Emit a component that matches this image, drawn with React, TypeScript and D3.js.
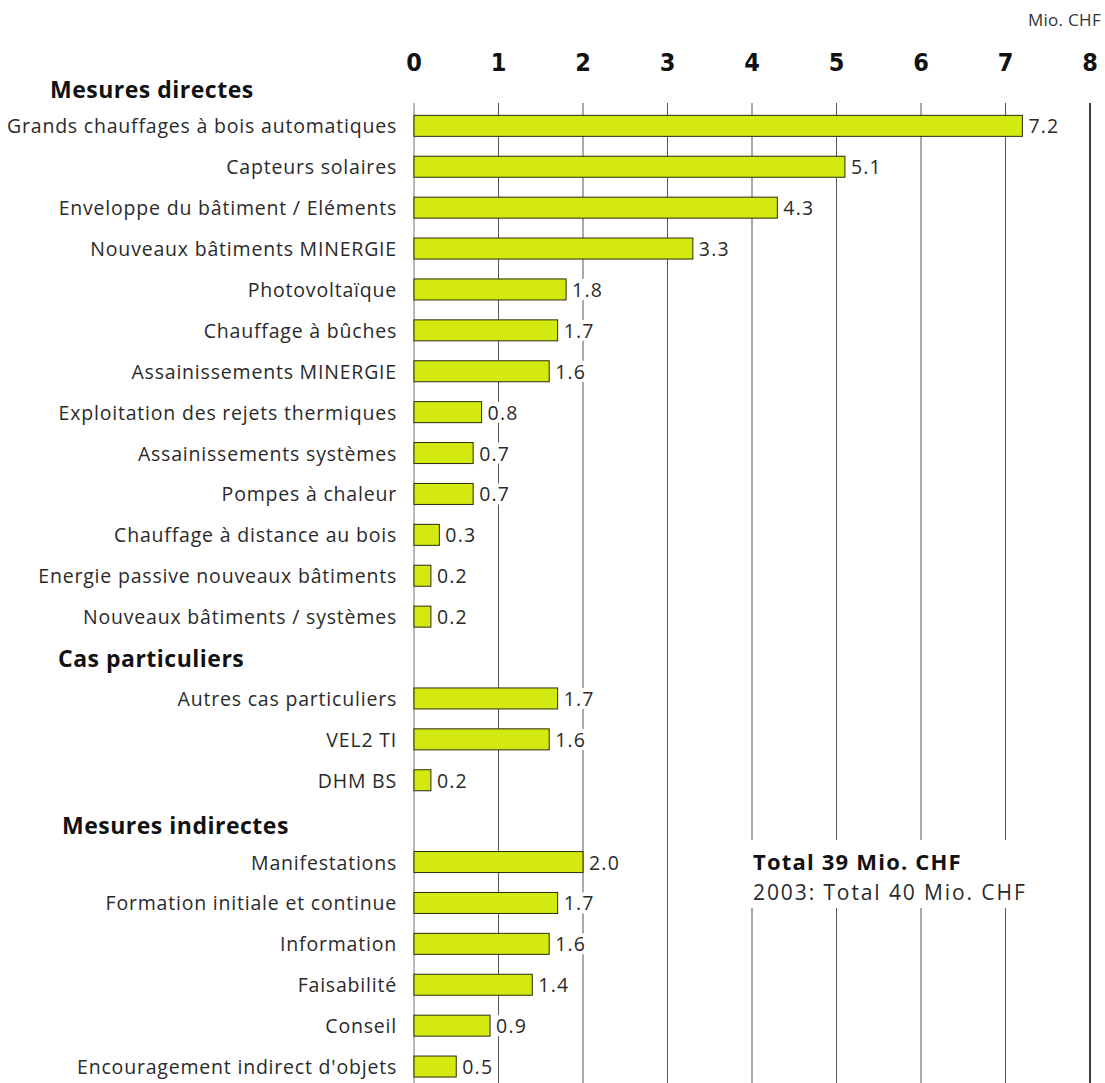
import React from "react";
import * as d3 from "d3";

// Chart data (Mio. CHF)
const groupNames = ["Mesures directes", "Cas particuliers", "Mesures indirectes"];

const directLabels = [
  "Grands chauffages à bois automatiques",
  "Capteurs solaires",
  "Enveloppe du bâtiment / Eléments",
  "Nouveaux bâtiments MINERGIE",
  "Photovoltaïque",
  "Chauffage à bûches",
  "Assainissements MINERGIE",
  "Exploitation des rejets thermiques",
  "Assainissements systèmes",
  "Pompes à chaleur",
  "Chauffage à distance au bois",
  "Energie passive nouveaux bâtiments",
  "Nouveaux bâtiments / systèmes",
];
const directValues = [7.2, 5.1, 4.3, 3.3, 1.8, 1.7, 1.6, 0.8, 0.7, 0.7, 0.3, 0.2, 0.2];

const specialLabels = ["Autres cas particuliers", "VEL2 TI", "DHM BS"];
const specialValues = [1.7, 1.6, 0.2];

const indirectLabels = [
  "Manifestations",
  "Formation initiale et continue",
  "Information",
  "Faisabilité",
  "Conseil",
  "Encouragement indirect d'objets",
];
const indirectValues = [2.0, 1.7, 1.6, 1.4, 0.9, 0.5];

const tickValues = [0, 1, 2, 3, 4, 5, 6, 7, 8];

const totalLine = "Total 39 Mio. CHF";
const previousLine = "2003: Total 40 Mio. CHF";
const unitLabel = "Mio. CHF";

interface Row {
  key: string;
  label: string;
  value: number | null; // null = group header
  group: number;
}

const W = 1105;
const H = 1083;
const FONT = "'Open Sans', 'Noto Sans', sans-serif";

const App = () => {
  // Build the row list: header followed by its items
  const labelSets = [directLabels, specialLabels, indirectLabels];
  const valueSets = [directValues, specialValues, indirectValues];
  const rows: Row[] = [];
  groupNames.forEach((g, gi) => {
    rows.push({ key: `h${gi}`, label: g, value: null, group: gi });
    labelSets[gi].forEach((l, i) => {
      rows.push({ key: `r${gi}-${i}`, label: l, value: valueSets[gi][i], group: gi });
    });
  });

  const x = d3.scaleLinear().domain([0, 8]).range([414, 1090]);
  const y = d3
    .scalePoint<string>()
    .domain(rows.map((r) => r.key))
    .range([64.5, 1087])
    .padding(0.5);

  const barH = 21;
  const headerX = [50, 58, 62]; // header indents
  const headerDy = [7, 3, 7];

  return (
    <svg
      width={W}
      height={H}
      style={{ position: "absolute", left: 0, top: 0, display: "block", background: "#fff" }}
      fontFamily={FONT}
    >
      {/* unit label */}
      <text x={1101} y={26} textAnchor="end" fontSize={17} letterSpacing={0.3} fill="#333">
        {unitLabel}
      </text>

      {/* tick labels */}
      {tickValues.map((t) => (
        <text
          key={`t${t}`}
          x={x(t)}
          y={71}
          textAnchor="middle"
          fontSize={25}
          fontWeight="bold"
          fill="#111"
          fontFamily="'Liberation Sans Narrow', 'DejaVu Sans Condensed', sans-serif"
          style={{ fontStretch: "condensed" }}
        >
          {t}
        </text>
      ))}

      {/* gridlines */}
      {tickValues.map((t) => (
        <line
          key={`g${t}`}
          x1={x(t)}
          x2={x(t)}
          y1={103}
          y2={H}
          stroke={t === 8 ? "#000" : t === 0 ? "#777" : "#555"}
          strokeWidth={t === 8 ? 1.5 : 1}
        />
      ))}

      {/* rows */}
      {rows.map((r) => {
        const cy = y(r.key) as number;
        if (r.value === null) {
          return (
            <text
              key={r.key}
              x={headerX[r.group]}
              y={cy + headerDy[r.group]}
              dominantBaseline="middle"
              fontSize={23}
              fontWeight="bold"
              letterSpacing={0.5}
              fill="#111"
            >
              {r.label}
            </text>
          );
        }
        const end = x(r.value);
        const valText = r.value.toFixed(1);
        return (
          <g key={r.key}>
            <text
              x={397}
              y={cy}
              textAnchor="end"
              dominantBaseline="central"
              fontSize={19.5}
              letterSpacing={0.8}
              fill="#2a2a2a"
            >
              {r.label}
            </text>
            <rect
              x={x(0)}
              y={cy - barH / 2}
              width={end - x(0)}
              height={barH}
              fill="#d3e90f"
              stroke="#2b2b10"
              strokeWidth={1}
            />
            <rect x={end + 3} y={cy - barH / 2} width={38} height={barH} fill="#fff" />
            <text
              x={end + 6}
              y={cy}
              dominantBaseline="central"
              fontSize={19.5}
              letterSpacing={1.2}
              fill="#2a2a2a"
            >
              {valText}
            </text>
          </g>
        );
      })}

      {/* totals */}
      <rect x={748} y={840} width={300} height={68} fill="#fff" />
      <text x={753} y={870} fontSize={22} fontWeight="bold" letterSpacing={1.2} fill="#111">
        {totalLine}
      </text>
      <text x={753} y={900} fontSize={21} letterSpacing={1.9} fill="#2a2a2a">
        {previousLine}
      </text>
    </svg>
  );
};

export default App;
